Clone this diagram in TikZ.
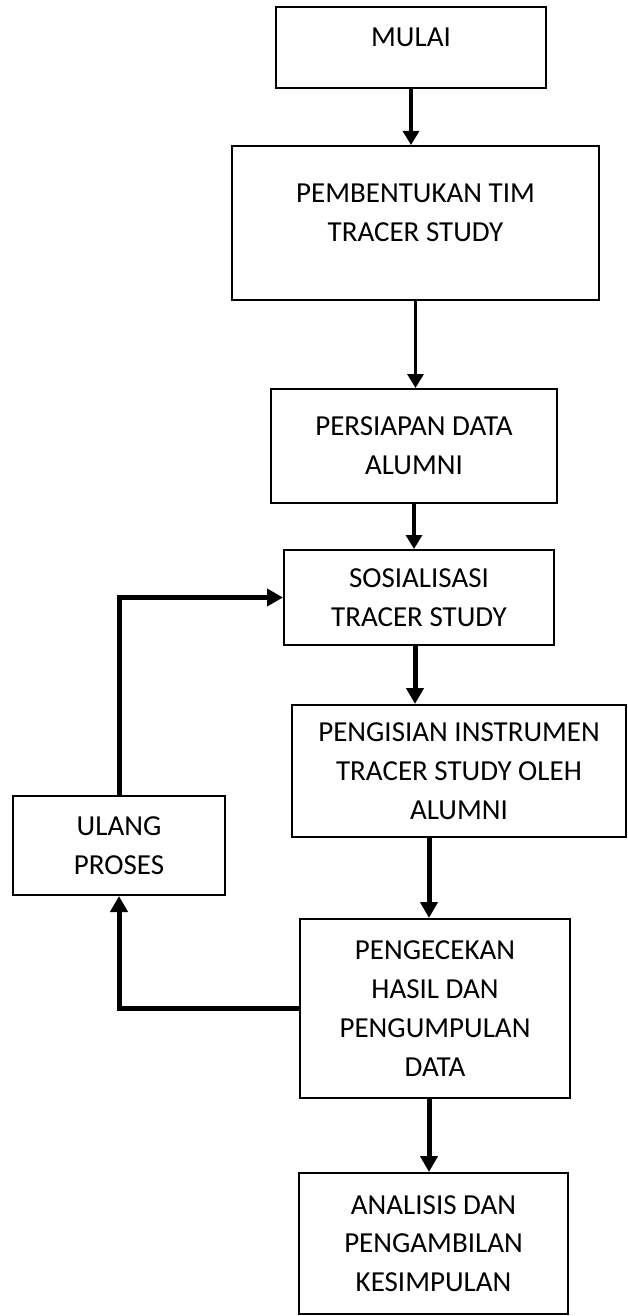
\documentclass[tikz,border=0pt]{standalone}
\usepackage{fontspec}
\setmainfont{Carlito}
\usetikzlibrary{arrows.meta}

\begin{document}
\begin{tikzpicture}[x=0.5pt,y=-0.5pt,
  box/.style={draw, line width=1pt, align=center, inner sep=0pt,
    font=\fontsize{14.5}{19.4}\selectfont},
  link/.style={line width=1.6pt, -{Triangle[length=7pt,width=8pt]}},
  boldlink/.style={line width=2.5pt, -{Triangle[length=8pt,width=8.5pt]}}]

\useasboundingbox (0,0) rectangle (627,1316);

%boxes
\node[box, minimum width=135pt, minimum height=40.5pt, text depth=10pt] (mulai) at (411,47.5) {MULAI};
\node[box, minimum width=183.5pt, minimum height=77pt, text depth=10pt] (tim) at (415.5,223) {PEMBENTUKAN TIM\\TRACER STUDY};
\node[box, minimum width=143pt, minimum height=57pt] (persiapan) at (414,446) {PERSIAPAN DATA\\ALUMNI};
\node[box, minimum width=135pt, minimum height=47.5pt] (sosialisasi) at (419,597.5) {SOSIALISASI\\TRACER STUDY};
\node[box, minimum width=167pt, minimum height=66pt] (pengisian) at (459,771) {PENGISIAN INSTRUMEN\\TRACER STUDY OLEH\\ALUMNI};
\node[box, minimum width=106pt, minimum height=49.5pt] (ulang) at (119,845.5) {ULANG\\PROSES};
\node[box, minimum width=135pt, minimum height=89.5pt] (pengecekan) at (435,1008.5) {PENGECEKAN\\HASIL DAN\\PENGUMPULAN\\DATA};
\node[box, minimum width=134.5pt, minimum height=70.5pt] (analisis) at (433.5,1243.5) {ANALISIS DAN\\PENGAMBILAN\\KESIMPULAN};

%arrows
\draw[link] (mulai.south) -- (mulai.south |- tim.north);
\draw[link] (tim.south) -- (tim.south |- persiapan.north);
\draw[link] (persiapan.south) -- (persiapan.south |- sosialisasi.north);

\coordinate (s1) at ([xshift=-2pt]sosialisasi.south);
\draw[boldlink] (s1) -- (s1 |- pengisian.north);

\coordinate (c1) at ([xshift=-3pt]pengecekan.north);
\draw[boldlink] (c1 |- pengisian.south) -- (c1);
\draw[boldlink] (c1 |- pengecekan.south) -- (c1 |- analisis.north);

%loop back
\draw[boldlink] (pengecekan.west) -| (ulang.south);
\draw[boldlink] (ulang.north) |- (sosialisasi.west);

\end{tikzpicture}
\end{document}
